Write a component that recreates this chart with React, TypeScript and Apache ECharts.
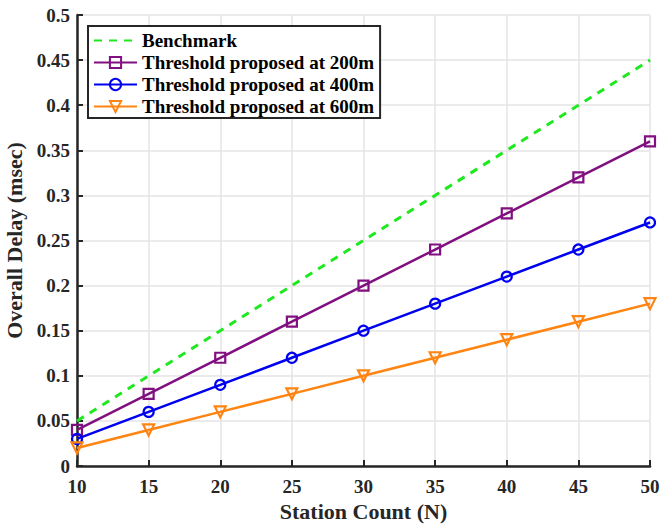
import React, { useEffect, useRef } from "react";
import * as echarts from "echarts";

const stations = [10, 15, 20, 25, 30, 35, 40, 45, 50];
const benchmark = [0.05, 0.1, 0.15, 0.2, 0.25, 0.3, 0.35, 0.4, 0.45];
const th200 = [0.04, 0.08, 0.12, 0.16, 0.2, 0.24, 0.28, 0.32, 0.36];
const th400 = [0.03, 0.06, 0.09, 0.12, 0.15, 0.18, 0.21, 0.24, 0.27];
const th600 = [0.02, 0.04, 0.06, 0.08, 0.1, 0.12, 0.14, 0.16, 0.18];
const seriesNames = [
  "Benchmark",
  "Threshold proposed at 200m",
  "Threshold proposed at 400m",
  "Threshold proposed at 600m",
];

const font = "'Liberation Serif', 'Times New Roman', serif";
const ink = "#262626";

export default function App() {
  const ref = useRef<HTMLDivElement>(null);
  useEffect(() => {
    const chart = echarts.init(ref.current!, null, { renderer: "svg" });
    const pair = (ys: number[]) => stations.map((x, i) => [x, ys[i]]);
    const mk = (name: string, ys: number[], color: string, symbol: string, dashed = false) => ({
      name,
      type: "line",
      data: pair(ys),
      symbol: dashed ? "circle" : symbol,
      symbolSize: dashed ? 0 : symbol === "triangle" ? 11 : 10,
      symbolRotate: symbol === "triangle" ? 180 : 0,
      showSymbol: !dashed,
      lineStyle: { color, width: dashed ? 3 : 2.5, type: dashed ? [8, 7] : "solid" },
      itemStyle: dashed
        ? { color: "rgba(0,0,0,0)", borderColor: "rgba(0,0,0,0)", borderWidth: 0 }
        : { color: "rgba(255,255,255,0)", borderColor: color, borderWidth: 2.2 },
      z: dashed ? 3 : 4,
    });
    chart.setOption({
      animation: false,
      backgroundColor: "#fff",
      grid: { left: 77, top: 15, right: 11, bottom: 61, outerBoundsMode: "none", containLabel: false },
      legend: {
        left: 88,
        top: 26,
        orient: "vertical",
        data: seriesNames,
        backgroundColor: "#fff",
        borderColor: ink,
        borderWidth: 2,
        borderRadius: 0,
        padding: [5, 6, 2, 5],
        itemGap: 3,
        itemWidth: 43,
        itemHeight: 14,
        textStyle: { fontFamily: font, fontWeight: "bold", fontSize: 19, color: "#000" },
      },
      xAxis: {
        type: "value",
        min: 10,
        max: 50,
        interval: 5,
        name: "Station Count (N)",
        nameLocation: "middle",
        nameGap: 34,
        nameTextStyle: { fontFamily: font, fontWeight: "bold", fontSize: 22, color: ink },
        axisLine: { show: true, lineStyle: { color: ink, width: 2.5 } },
        axisTick: { show: true, inside: true, length: 6, lineStyle: { color: ink, width: 2 } },
        axisLabel: { fontFamily: font, fontWeight: "bold", fontSize: 19, color: ink, margin: 11 },
        splitLine: { show: true, lineStyle: { color: "#e4e4e4", width: 1.5 } },
      },
      yAxis: {
        type: "value",
        min: 0,
        max: 0.5,
        interval: 0.05,
        name: "Overall Delay (msec)",
        nameLocation: "middle",
        nameGap: 51,
        nameTextStyle: { fontFamily: font, fontWeight: "bold", fontSize: 22, color: ink },
        axisLine: { show: true, lineStyle: { color: ink, width: 2.5 } },
        axisTick: { show: true, inside: true, length: 6, lineStyle: { color: ink, width: 2 } },
        axisLabel: { fontFamily: font, fontWeight: "bold", fontSize: 19, color: ink, margin: 7 },
        splitLine: { show: true, lineStyle: { color: "#e4e4e4", width: 1.5 } },
      },
      series: [
        mk(seriesNames[0], benchmark, "#1ee81e", "none", true),
        mk(seriesNames[1], th200, "#800f80", "rect"),
        mk(seriesNames[2], th400, "#0000f0", "circle"),
        mk(seriesNames[3], th600, "#ff8412", "triangle"),
      ],
    });
    return () => chart.dispose();
  }, []);
  return <div ref={ref} style={{ position: "fixed", left: 0, top: 0, width: 661, height: 527 }} />;
}
